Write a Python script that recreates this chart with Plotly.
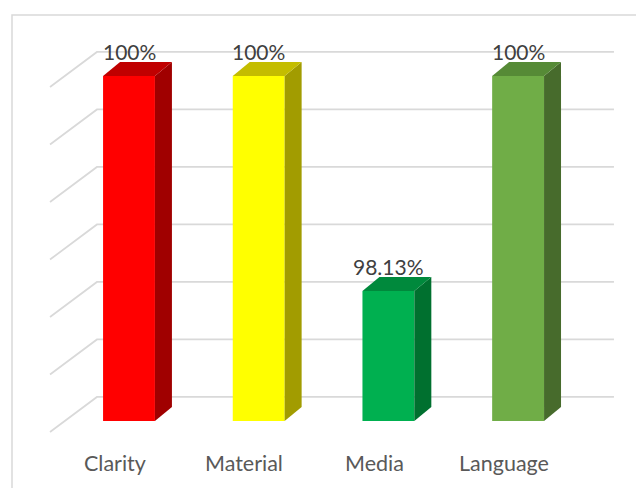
import plotly.graph_objects as go

# ---- data ----
categories = ["Clarity", "Material", "Media", "Language"]
values = [100, 100, 98.13, 100]
grid_ticks = [97, 97.5, 98, 98.5, 99, 99.5, 100]

front_colors = ["#FF0000", "#FFFF00", "#00B050", "#70AD47"]
top_colors = ["#C00000", "#C4BD00", "#00893C", "#568A36"]
side_colors = ["#A00000", "#A29C00", "#00702F", "#476B2C"]

# ---- layout constants (3D look) ----
BASE = 97.0
BAR_W = 0.4
DX, DY = 0.131, 0.122          # bar depth offset (x units, value units)
FLOOR_LEFT, WALL_LEFT, WALL_RIGHT = -0.609, -0.247, 3.739
FRONT_DV, BACK_DV = -0.096, 0.209
LABEL_SHIFT = 0.11

xs = list(range(len(categories)))

fig = go.Figure()

# front faces
fig.add_trace(go.Bar(
    x=xs, y=[v - BASE for v in values], base=BASE, width=BAR_W,
    marker=dict(color=front_colors, line=dict(width=0)),
    hoverinfo="skip", showlegend=False))

# side and top faces
for x, v, tc, sc in zip(xs, values, top_colors, side_colors):
    r = x + BAR_W / 2
    l = x - BAR_W / 2
    fig.add_trace(go.Scatter(
        x=[r, r + DX, r + DX, r, r], y=[BASE, BASE + DY, v + DY, v, BASE],
        fill="toself", fillcolor=sc, mode="lines", line=dict(width=0, color=sc),
        hoverinfo="skip", showlegend=False))
    fig.add_trace(go.Scatter(
        x=[l, r, r + DX, l + DX, l], y=[v, v, v + DY, v + DY, v],
        fill="toself", fillcolor=tc, mode="lines", line=dict(width=0, color=tc),
        hoverinfo="skip", showlegend=False))

# gridlines on back wall with side-wall diagonals
shapes = []
for t in grid_ticks:
    shapes.append(dict(
        type="path", xref="x", yref="y", layer="below",
        path=f"M {FLOOR_LEFT},{t + FRONT_DV} L {WALL_LEFT},{t + BACK_DV} L {WALL_RIGHT},{t + BACK_DV}",
        line=dict(color="#D9D9D9", width=1.75)))

# chart border
shapes.append(dict(type="rect", xref="paper", yref="paper",
                   x0=4 / 644, x1=1.05, y0=-0.05, y1=1 - 7 / 488,
                   line=dict(color="#D9D9D9", width=1.5), layer="below"))

annotations = []
for x, v in zip(xs, values):
    annotations.append(dict(x=x, y=v, xref="x", yref="y", text=f"{v:g}%",
                            showarrow=False, yanchor="middle", yshift=25,
                            font=dict(family="Lato", size=21, color="#404040")))
for x, c in zip(xs, categories):
    annotations.append(dict(x=x - LABEL_SHIFT, y=BASE, xref="x", yref="y", text=c,
                            showarrow=False, yanchor="middle", yshift=-42,
                            font=dict(family="Lato", size=21.5, color="#595959")))

fig.update_layout(
    width=644, height=488,
    margin=dict(l=0, r=0, t=0, b=0),
    paper_bgcolor="white", plot_bgcolor="white",
    xaxis=dict(range=[-0.9329, 4.0324], visible=False, fixedrange=True),
    yaxis=dict(range=[96.3478, 100.5913], visible=False, fixedrange=True),
    shapes=shapes, annotations=annotations, showlegend=False,
)

fig.write_html("out.html")
